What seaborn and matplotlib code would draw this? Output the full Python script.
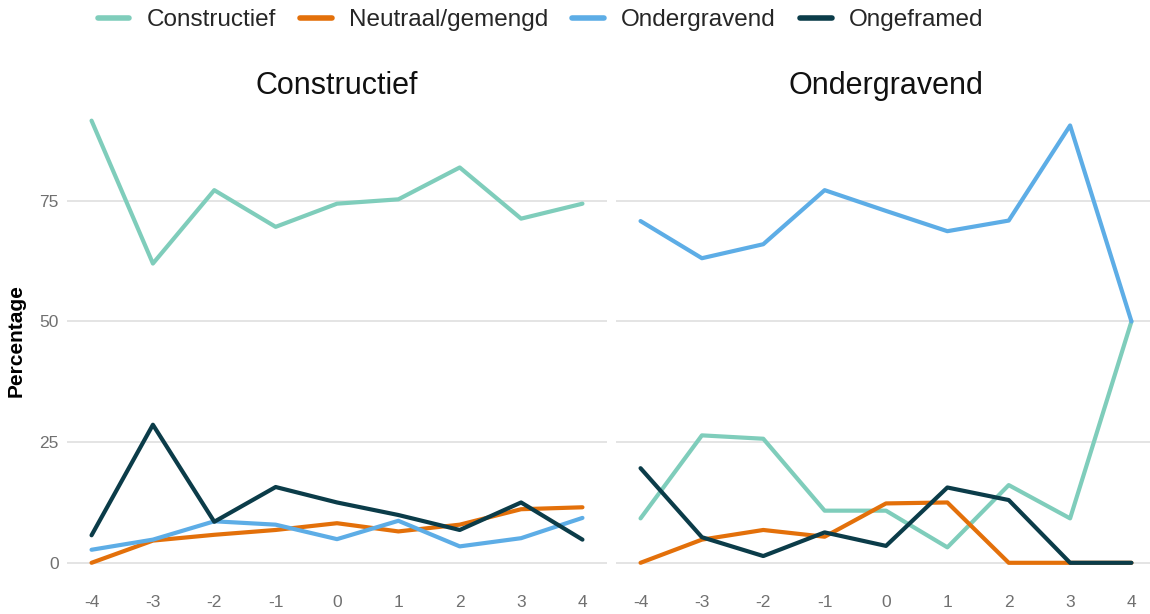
import numpy as np
import pandas as pd
import matplotlib
matplotlib.use("Agg")
import matplotlib.pyplot as plt
import seaborn as sns
from matplotlib.lines import Line2D

# ---- data ----
x_vals = [-4, -3, -2, -1, 0, 1, 2, 3, 4]
panels = ["Constructief", "Ondergravend"]
series = ["Constructief", "Neutraal/gemengd", "Ondergravend", "Ongeframed"]

# Panel "Constructief"
c_constructief = [91.6, 62.0, 77.2, 69.6, 74.4, 75.3, 81.9, 71.3, 74.4]
c_neutraal     = [0.0, 4.6, 5.8, 6.8, 8.2, 6.5, 7.9, 11.1, 11.5]
c_ondergravend = [2.7, 4.8, 8.6, 7.9, 4.9, 8.7, 3.4, 5.1, 9.3]
c_ongeframed   = [5.7, 28.6, 8.5, 15.7, 12.5, 9.9, 6.8, 12.5, 4.8]

# Panel "Ondergravend"
o_constructief = [9.2, 26.4, 25.7, 10.8, 10.8, 3.2, 16.1, 9.2, 50.0]
o_neutraal     = [0.0, 4.8, 6.8, 5.4, 12.3, 12.5, 0.0, 0.0, 0.0]
o_ondergravend = [70.8, 63.1, 66.0, 77.2, 72.9, 68.7, 70.9, 90.6, 50.0]
o_ongeframed   = [19.6, 5.3, 1.4, 6.3, 3.5, 15.6, 13.0, 0.0, 0.0]

y_ticks = [0, 25, 50, 75]
colors = ["#7FCDBB", "#E3700A", "#5DADE6", "#0B3C49"]

panel_data = {
    "Constructief": [c_constructief, c_neutraal, c_ondergravend, c_ongeframed],
    "Ondergravend": [o_constructief, o_neutraal, o_ondergravend, o_ongeframed],
}
rows = []
for p in panels:
    for s, vals in zip(series, panel_data[p]):
        for xv, yv in zip(x_vals, vals):
            rows.append({"panel": p, "serie": s, "x": xv, "y": yv})
df = pd.DataFrame(rows)

# ---- style ----
sns.set_theme(style="white")
plt.rcParams["font.family"] = ["Liberation Sans", "DejaVu Sans"]

W, H = 1150, 614
fig = plt.figure(figsize=(W / 100, H / 100), dpi=100)

def fr(x0, y0, x1, y1):
    return [x0 / W, 1 - y1 / H, (x1 - x0) / W, (y1 - y0) / H]

ax_pos = [fr(67, 97, 607, 585), fr(616, 97, 1156, 585)]
palette = dict(zip(series, colors))

for i, p in enumerate(panels):
    ax = fig.add_axes(ax_pos[i])
    sub = df[df["panel"] == p]
    sns.lineplot(data=sub, x="x", y="y", hue="serie", hue_order=series,
                 palette=palette, linewidth=3.0, ax=ax, legend=False,
                 estimator=None, sort=False)
    ax.set_xlim(-4.4, 4.4)
    ax.set_ylim(-4.6, 96.5)
    ax.set_yticks(y_ticks)
    ax.set_xticks(x_vals)
    ax.set_xticklabels([str(v) for v in x_vals])
    ax.grid(axis="y", color="#dddddd", linewidth=1.1)
    ax.grid(axis="x", visible=False)
    ax.set_axisbelow(True)
    for sp in ax.spines.values():
        sp.set_visible(False)
    ax.tick_params(axis="both", length=0, labelsize=12.5, labelcolor="#707070",
                   pad=6)
    ax.tick_params(axis="x", pad=7)
    ax.set_xlabel("")
    ax.set_title(p, fontsize=22, color="#111111", pad=2)
    if i == 0:
        ax.set_ylabel("Percentage", fontsize=15, fontweight="bold",
                      color="black", labelpad=10)
    else:
        ax.set_ylabel("")
        ax.set_yticklabels([])

handles = [Line2D([0], [0], color=c, linewidth=4) for c in colors]
fig.legend(handles, series, loc="center", bbox_to_anchor=(0.47, 1 - 20 / H),
           ncol=4, frameon=False, fontsize=17.5, handlelength=1.3,
           columnspacing=1.0, handletextpad=0.7)

fig.savefig("out.png", dpi=100)
